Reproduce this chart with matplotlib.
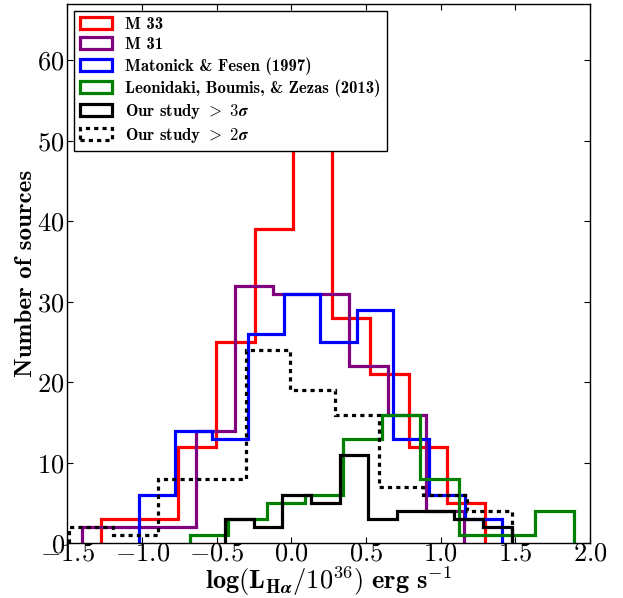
import numpy as np
import matplotlib
matplotlib.use('Agg')
import matplotlib.pyplot as plt
from matplotlib.patches import Rectangle

plt.rcParams['font.family'] = 'serif'
plt.rcParams['font.serif'] = ['cmr10']
plt.rcParams['mathtext.fontset'] = 'cm'
plt.rcParams['axes.formatter.use_mathtext'] = True
plt.rcParams['axes.unicode_minus'] = True

# ---- data: each series is a 10-bin histogram (range lo..hi, counts) ----
m33_range = (-1.276, 1.300)
m33_counts = [3, 3, 12, 25, 39, 61, 28, 21, 12, 5]

m31_range = (-1.405, 1.157)
m31_counts = [2, 2, 2, 14, 32, 31, 31, 22, 16, 4]

mf97_range = (-1.021, 1.408)
mf97_counts = [6, 14, 13, 26, 31, 25, 29, 13, 6, 3]

lbz13_range = (-0.680, 1.892)
lbz13_counts = [1, 3, 5, 6, 13, 16, 8, 1, 1, 4]

ours3_range = (-0.445, 1.475)
ours3_counts = [3, 2, 6, 5, 11, 3, 4, 4, 3, 2]

ours2_range = (-1.488, 1.475)
ours2_counts = [2, 1, 8, 8, 24, 19, 16, 7, 6, 4]

labels = ['M 33', 'M 31', 'Matonick & Fesen (1997)',
          'Leonidaki, Boumis, & Zezas (2013)',
          r'Our study $>$ $\mathbf{3}\boldsymbol{\sigma}$',
          r'Our study $>$ $\mathbf{2}\boldsymbol{\sigma}$']

x_ticks = [-1.5, -1.0, -0.5, 0.0, 0.5, 1.0, 1.5, 2.0]
y_ticks = [0, 10, 20, 30, 40, 50, 60]

fig = plt.figure(figsize=(6.23, 5.98), dpi=100)
ax = fig.add_axes([0.1083, 0.0915, 0.8387, 0.9018])

lw = 2.3
dotted = (0, (1.3, 1.3))
series = [
    (m33_range, m33_counts, 'red', '-'),
    (m31_range, m31_counts, 'purple', '-'),
    (mf97_range, mf97_counts, 'blue', '-'),
    (lbz13_range, lbz13_counts, 'green', '-'),
    (ours3_range, ours3_counts, 'black', '-'),
    (ours2_range, ours2_counts, 'black', dotted),
]

handles = []
for (rng, counts, col, ls) in series:
    edges = np.linspace(rng[0], rng[1], len(counts) + 1)
    ax.stairs(counts, edges, baseline=0, color=col, lw=lw, linestyle=ls, fill=False)
    handles.append(Rectangle((0, 0), 1, 1, facecolor='none', edgecolor=col,
                             lw=lw, linestyle=ls))

ax.set_xlim(-1.5, 2.0)
ax.set_ylim(0, 67)
ax.set_xticks(x_ticks)
ax.set_yticks(y_ticks)
ax.tick_params(direction='in', top=True, right=True, labelsize=19, length=4, width=0.8)
ax.tick_params(axis='x', pad=-1)
ax.tick_params(axis='y', pad=2)
for s in ax.spines.values():
    s.set_linewidth(1.0)

ax.set_xlabel(r'$\mathbf{log(L}_{\mathbf{H}\boldsymbol{\alpha}}\mathbf{/10}^{\mathbf{36}}\mathbf{)\ erg\ s}^{\mathbf{-1}}$',
              fontsize=19, labelpad=-1)
ax.set_ylabel('Number of sources', fontsize=18, family='cmb10', labelpad=0)

leg = ax.legend(handles, labels, loc='upper left', fancybox=False, frameon=True,
                prop={'family': 'cmb10', 'size': 12}, handlelength=1.9,
                borderaxespad=0.4, labelspacing=0.3, borderpad=0.38)
leg.get_frame().set_edgecolor('black')
leg.get_frame().set_linewidth(1.0)
leg.get_frame().set_alpha(1)

fig.savefig('out.png', dpi=100)
